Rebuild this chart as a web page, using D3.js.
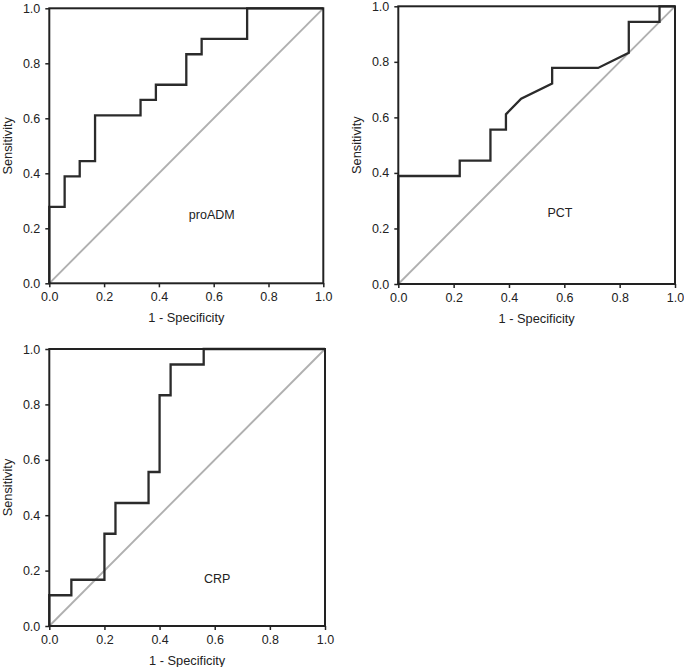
<!DOCTYPE html>
<html>
<head>
<meta charset="utf-8">
<script src="https://cdn.jsdelivr.net/npm/d3@7"></script>
<style>
  html, body { margin: 0; padding: 0; background: #fff; }
  svg { display: block; }
  text { font-family: "Liberation Sans", Arial, Helvetica, sans-serif; fill: #222; }
</style>
</head>
<body>
<svg id="chart" width="684" height="667"></svg>
<script>
// ---- Data ----
const tickValues = [0.0, 0.2, 0.4, 0.6, 0.8, 1.0];
const xTitle = "1 - Specificity";
const yTitle = "Sensitivity";

const proADM_fpr  = [0, 0,     0.056, 0.056, 0.111, 0.111, 0.167, 0.167, 0.333, 0.333, 0.389, 0.389, 0.500, 0.500, 0.556, 0.556, 0.722, 0.722, 1.0];
const proADM_sens = [0, 0.278, 0.278, 0.389, 0.389, 0.444, 0.444, 0.611, 0.611, 0.667, 0.667, 0.722, 0.722, 0.833, 0.833, 0.889, 0.889, 1.0,   1.0];

const PCT_fpr  = [0, 0,     0.222, 0.222, 0.333, 0.333, 0.389, 0.389, 0.444, 0.556, 0.556, 0.722, 0.833, 0.833, 0.944, 0.944, 1.0];
const PCT_sens = [0, 0.389, 0.389, 0.444, 0.444, 0.556, 0.556, 0.611, 0.667, 0.722, 0.778, 0.778, 0.833, 0.944, 0.944, 1.0,   1.0];

const CRP_fpr  = [0, 0,     0.08,  0.08,  0.20,  0.20,  0.24,  0.24,  0.36,  0.36,  0.40,  0.40,  0.44,  0.44,  0.56,  0.56, 1.0];
const CRP_sens = [0, 0.111, 0.111, 0.167, 0.167, 0.333, 0.333, 0.444, 0.444, 0.556, 0.556, 0.833, 0.833, 0.944, 0.944, 1.0,  1.0];

const panelNames = ["proADM", "PCT", "CRP"];
const panelLabelX = [0.593, 0.584, 0.609];
const panelLabelY = [0.248, 0.258, 0.172];

// ---- Layout ----
const layout = [
  { left: 49.3, top: 8.3,  width: 274, height: 275, fpr: proADM_fpr, sens: proADM_sens },
  { left: 398.3, top: 6.3, width: 276.7, height: 277.7, fpr: PCT_fpr, sens: PCT_sens },
  { left: 49.3, top: 349, width: 275.7, height: 277, fpr: CRP_fpr, sens: CRP_sens }
];

const svg = d3.select("#chart");
const fmt = d3.format(".1f");

layout.forEach((p, i) => {
  const g = svg.append("g").attr("transform", `translate(${p.left},${p.top})`);
  const x = d3.scaleLinear().domain([0, 1]).range([0, p.width]);
  const y = d3.scaleLinear().domain([0, 1]).range([p.height, 0]);

  // diagonal reference
  g.append("path")
    .datum([[0, 0], [1, 1]])
    .attr("d", d3.line().x(d => x(d[0])).y(d => y(d[1])))
    .attr("fill", "none")
    .attr("stroke", "#b0b0b0")
    .attr("stroke-width", 1.9);

  // ROC curve
  const pts = p.fpr.map((f, k) => [f, p.sens[k]]);
  g.append("path")
    .datum(pts)
    .attr("d", d3.line().x(d => x(d[0])).y(d => y(d[1])))
    .attr("fill", "none")
    .attr("stroke", "#2b2b2b")
    .attr("stroke-width", 2.3)
    .attr("stroke-linejoin", "miter");

  // frame
  g.append("rect")
    .attr("x", 0).attr("y", 0)
    .attr("width", p.width).attr("height", p.height)
    .attr("fill", "none")
    .attr("stroke", "#222")
    .attr("stroke-width", 2);

  // axes
  const ax = g.append("g").attr("transform", `translate(0,${p.height})`)
    .call(d3.axisBottom(x).tickValues(tickValues).tickFormat(fmt).tickSize(4).tickPadding(5));
  const ay = g.append("g")
    .call(d3.axisLeft(y).tickValues(tickValues).tickFormat(fmt).tickSize(4).tickPadding(5));
  [ax, ay].forEach(a => {
    a.select(".domain").remove();
    a.selectAll(".tick line").attr("stroke", "#222").attr("stroke-width", 1.5);
    a.selectAll(".tick text").style("font-size", "12.5px").attr("fill", "#222")
      .style("font-family", '"Liberation Sans", Arial, sans-serif');
  });

  // axis titles
  g.append("text")
    .attr("x", p.width / 2).attr("y", p.height + 39)
    .attr("text-anchor", "middle")
    .style("font-size", "12.8px")
    .text(xTitle);
  g.append("text")
    .attr("transform", `translate(${-37.5},${p.height / 2}) rotate(-90)`)
    .attr("text-anchor", "middle")
    .style("font-size", "12.8px")
    .text(yTitle);

  // panel label
  g.append("text")
    .attr("x", x(panelLabelX[i])).attr("y", y(panelLabelY[i]))
    .attr("dy", "0.35em")
    .attr("text-anchor", "middle")
    .style("font-size", "12.5px")
    .text(panelNames[i]);
});
</script>
</body>
</html>
